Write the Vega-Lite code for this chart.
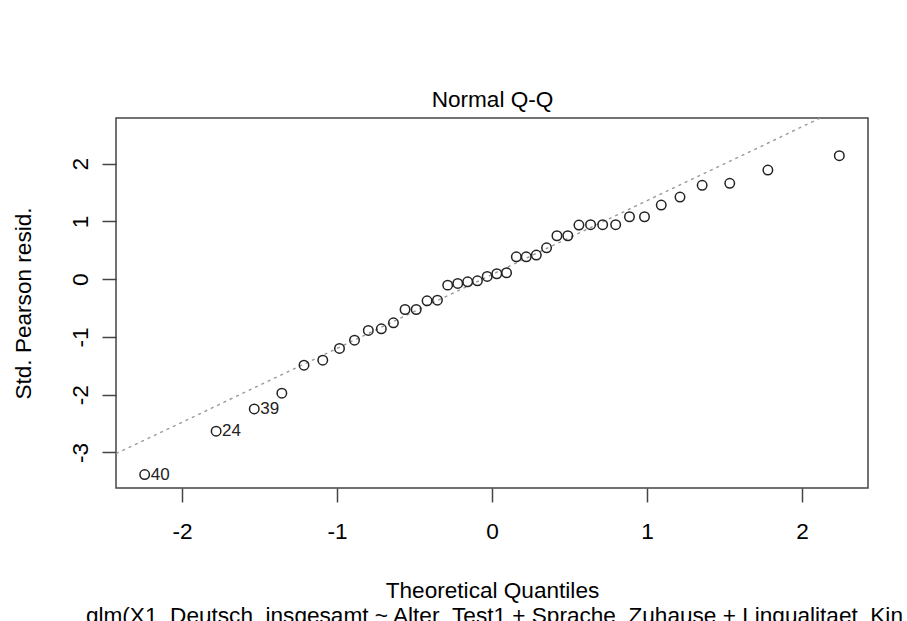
{
  "$schema": "https://vega.github.io/schema/vega-lite/v6.json",
  "width": 752,
  "height": 370,
  "autosize": {"type": "none"},
  "padding": {"left": 116, "top": 118, "right": 39, "bottom": 133},
  "background": "white",
  "title": {
    "text": "glm(X1_Deutsch_insgesamt ~ Alter_Test1 + Sprache_Zuhause + Lingualitaet_Kin ...",
    "orient": "bottom",
    "font": "Liberation Sans",
    "fontSize": 22.6,
    "fontWeight": "normal",
    "color": "black",
    "anchor": "middle",
    "baseline": "alphabetic",
    "offset": 0,
    "dx": 15,
    "dy": 21
  },
  "datasets": {
    "pts": [
      {"q": -2.241, "r": -3.385, "id": "40"},
      {"q": -1.780, "r": -2.634, "id": "24"},
      {"q": -1.534, "r": -2.248, "id": "39"},
      {"q": -1.356, "r": -1.976, "id": ""},
      {"q": -1.213, "r": -1.490, "id": ""},
      {"q": -1.092, "r": -1.404, "id": ""},
      {"q": -0.984, "r": -1.201, "id": ""},
      {"q": -0.887, "r": -1.057, "id": ""},
      {"q": -0.798, "r": -0.889, "id": ""},
      {"q": -0.714, "r": -0.861, "id": ""},
      {"q": -0.636, "r": -0.757, "id": ""},
      {"q": -0.561, "r": -0.526, "id": ""},
      {"q": -0.489, "r": -0.526, "id": ""},
      {"q": -0.419, "r": -0.376, "id": ""},
      {"q": -0.352, "r": -0.364, "id": ""},
      {"q": -0.286, "r": -0.104, "id": ""},
      {"q": -0.221, "r": -0.075, "id": ""},
      {"q": -0.157, "r": -0.046, "id": ""},
      {"q": -0.094, "r": -0.029, "id": ""},
      {"q": -0.031, "r": 0.046, "id": ""},
      {"q": 0.031, "r": 0.093, "id": ""},
      {"q": 0.094, "r": 0.110, "id": ""},
      {"q": 0.157, "r": 0.387, "id": ""},
      {"q": 0.221, "r": 0.387, "id": ""},
      {"q": 0.286, "r": 0.416, "id": ""},
      {"q": 0.352, "r": 0.543, "id": ""},
      {"q": 0.419, "r": 0.751, "id": ""},
      {"q": 0.489, "r": 0.751, "id": ""},
      {"q": 0.561, "r": 0.936, "id": ""},
      {"q": 0.636, "r": 0.942, "id": ""},
      {"q": 0.714, "r": 0.942, "id": ""},
      {"q": 0.798, "r": 0.942, "id": ""},
      {"q": 0.887, "r": 1.080, "id": ""},
      {"q": 0.984, "r": 1.080, "id": ""},
      {"q": 1.092, "r": 1.282, "id": ""},
      {"q": 1.213, "r": 1.421, "id": ""},
      {"q": 1.356, "r": 1.624, "id": ""},
      {"q": 1.534, "r": 1.659, "id": ""},
      {"q": 1.780, "r": 1.889, "id": ""},
      {"q": 2.241, "r": 2.137, "id": ""}
    ],
    "qqline": [
      {"q": -2.426, "r": -3.023},
      {"q": 2.426, "r": 3.182}
    ]
  },
  "encoding": {
    "y": {
      "field": "r",
      "type": "quantitative",
      "scale": {"domain": [-3.617, 2.79], "nice": false, "zero": false},
      "axis": {
        "values": [-3, -2, -1, 0, 1, 2],
        "labelExpr": "datum.value < 0 ? '-' + abs(datum.value) : '' + datum.value",
        "title": "Std. Pearson resid.",
        "labelAngle": 270,
        "labelAlign": "center",
        "labelBaseline": "alphabetic",
        "labelPadding": 15,
        "titleAngle": 270,
        "titleAlign": "center",
        "titleBaseline": "alphabetic",
        "titleX": -86,
        "titleY": 185
      }
    }
  },
  "layer": [
    {
      "data": {"name": "qqline"},
      "mark": {"type": "line", "clip": true, "stroke": "#999999", "strokeDash": [3, 4], "strokeWidth": 1.4},
      "encoding": {
        "x": {
          "field": "q",
          "type": "quantitative",
          "scale": {"domain": [-2.426, 2.426], "nice": false, "zero": false},
          "axis": {
            "orient": "bottom",
            "values": [-2, -1, 0, 1, 2],
            "labelExpr": "datum.value < 0 ? '-' + abs(datum.value) : '' + datum.value",
            "title": "Theoretical Quantiles",
            "labelBaseline": "alphabetic",
            "labelPadding": 36,
            "titleBaseline": "alphabetic",
            "titleAlign": "center",
            "titleX": 376,
            "titleY": 109
          }
        }
      }
    },
    {
      "data": {"name": "pts"},
      "mark": {"type": "point", "shape": "circle", "filled": false, "size": 90, "stroke": "#222222", "strokeWidth": 1.5, "opacity": 1},
      "encoding": {
        "x": {
          "field": "q",
          "type": "quantitative",
          "axis": {
            "orient": "top",
            "title": "Normal Q-Q",
            "ticks": false,
            "labels": false,
            "domain": false,
            "titleBaseline": "alphabetic",
            "titleAlign": "center",
            "titleX": 376,
            "titleY": -11.5
          }
        }
      }
    },
    {
      "data": {"name": "pts"},
      "mark": {"type": "text", "align": "left", "baseline": "middle", "dx": 6, "font": "Liberation Sans", "fontSize": 17, "color": "#222222"},
      "encoding": {
        "x": {"field": "q", "type": "quantitative", "axis": null},
        "text": {"field": "id"}
      }
    }
  ],
  "resolve": {"axis": {"x": "independent"}},
  "config": {
    "view": {"stroke": "#444444", "strokeWidth": 1.5},
    "axis": {
      "domain": false,
      "grid": false,
      "tickSize": 14,
      "tickColor": "#444444",
      "tickWidth": 1.5,
      "labelFont": "Liberation Sans",
      "labelFontSize": 22.6,
      "labelColor": "black",
      "titleFont": "Liberation Sans",
      "titleFontSize": 22.6,
      "titleFontWeight": "normal",
      "titleColor": "black"
    }
  }
}
